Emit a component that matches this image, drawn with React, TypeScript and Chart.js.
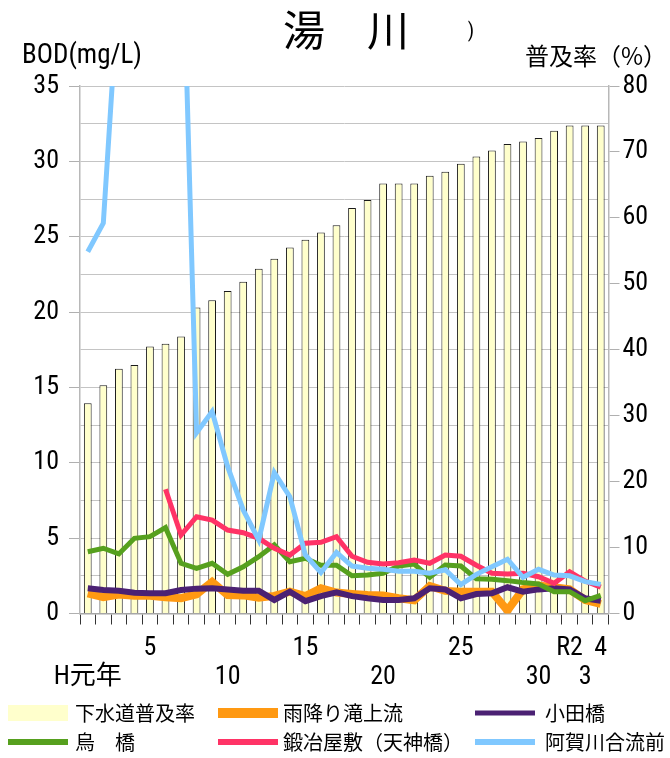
import { useEffect, useRef } from 'react';
import { Chart, registerables } from 'chart.js';

Chart.register(...registerables);

const FONT = "'Roboto Condensed', 'Noto Sans CJK JP', sans-serif";
const CJK = "'Noto Sans CJK JP', sans-serif";

const categories = [
  'H1', 'H2', 'H3', 'H4', 'H5', 'H6', 'H7', 'H8', 'H9', 'H10',
  'H11', 'H12', 'H13', 'H14', 'H15', 'H16', 'H17', 'H18', 'H19', 'H20',
  'H21', 'H22', 'H23', 'H24', 'H25', 'H26', 'H27', 'H28', 'H29', 'H30',
  'R1', 'R2', 'R3', 'R4',
];

const xRow1 = [
  '', '', '', '', '5', '', '', '', '', '',
  '', '', '', '', '15', '', '', '', '', '',
  '', '', '', '', '25', '', '', '', '', '',
  '', 'R2', '', '4',
];
const xRow2 = [
  'H元年', '', '', '', '', '', '', '', '', '10',
  '', '', '', '', '', '', '', '', '', '20',
  '', '', '', '', '', '', '', '', '', '30',
  '', '', '3', '',
];

const fukyuritsu = [
  31.9, 34.6, 37.1, 37.7, 40.5, 40.9, 42.0, 46.4, 47.5, 48.9,
  50.3, 52.3, 53.8, 55.5, 56.7, 57.8, 58.9, 61.5, 62.7, 65.2,
  65.2, 65.2, 66.4, 67.0, 68.2, 69.3, 70.2, 71.2, 71.6, 72.1,
  73.2, 74.0, 74.0, 74.0,
];
const amefuritaki = [
  1.34, 1.08, 1.26, 1.17, 1.17, 1.08, 1.02, 1.28, 2.1, 1.22,
  1.2, 1.05, 1.17, 1.45, 1.16, 1.67, 1.39, 1.3, 1.23, 1.2,
  1.01, 0.88, 1.82, 1.5, 1.45, 1.45, 1.45, 0.2, 1.6, 1.85,
  1.74, 1.6, 0.9, 0.63,
];
const odabashi = [
  1.67, 1.56, 1.51, 1.38, 1.34, 1.34, 1.56, 1.65, 1.67, 1.6,
  1.51, 1.51, 0.9, 1.45, 0.82, 1.15, 1.4, 1.15, 1.01, 0.9,
  0.9, 1.01, 1.67, 1.6, 1.01, 1.29, 1.34, 1.74, 1.45, 1.6,
  1.67, 1.6, 1.01, 0.85,
];
const karasubashi = [
  4.1, 4.33, 3.95, 4.99, 5.1, 5.7, 3.33, 3.0, 3.33, 2.6,
  3.1, 3.77, 4.55, 3.44, 3.66, 3.2, 3.2, 2.5, 2.55, 2.67,
  3.15, 3.28, 2.4, 3.22, 3.15, 2.3, 2.27, 2.18, 2.05, 1.96,
  1.45, 1.45, 0.85, 1.2,
];
const kajiyashiki = [
  null, null, null, null, null, 8.24, 5.2, 6.42, 6.2, 5.54,
  5.36, 4.99, 4.33, 3.88, 4.66, 4.72, 5.1, 3.8, 3.4, 3.28,
  3.37, 3.55, 3.33, 3.88, 3.8, 3.2, 2.67, 2.62, 2.67, 2.44,
  2.0, 2.77, 2.15, 1.75,
];
const agagawa = [
  24.0, 25.9, 42, 50, 55, 52, 49, 12.0, 13.4, 9.74,
  6.87, 4.88, 9.35, 7.75, 3.88, 2.71, 4.05, 3.15, 3.0, 2.93,
  2.8, 2.8, 2.67, 2.9, 1.92, 2.6, 3.1, 3.6, 2.4, 2.93,
  2.55, 2.5, 2.11, 1.93,
];

const legendItems = [
  { label: '下水道普及率', color: '#FFFFCC', h: 16 },
  { label: '雨降り滝上流', color: '#FF9912', h: 10 },
  { label: '小田橋', color: '#4B2173', h: 5 },
  { label: '烏　橋', color: '#56A01E', h: 6 },
  { label: '鍛冶屋敷（天神橋）', color: '#FF3366', h: 6 },
  { label: '阿賀川合流前', color: '#80C8FF', h: 6 },
];

const overlay = {
  id: 'overlay',
  afterDraw(chart: any) {
    const ctx = chart.ctx;
    ctx.save();
    ctx.fillStyle = '#000';
    ctx.textBaseline = 'middle';
    // title
    ctx.font = `42px ${CJK}`;
    ctx.textAlign = 'center';
    ctx.fillText('湯　川', 346, 30);
    ctx.font = `20px ${FONT}`;
    ctx.fillText(')', 471, 32);
    // axis titles
    ctx.font = `27px ${FONT}`;
    ctx.textAlign = 'left';
    ctx.fillText('BOD(mg/L)', 22, 56);
    ctx.font = `24px ${CJK}`;
    ctx.textAlign = 'right';
    ctx.fillText('普及率（%）', 667, 56);
    // legend
    const colX = [8, 218, 475];
    const textX = [75, 283, 545];
    const rowY = [713, 742];
    ctx.font = `20px ${CJK}`;
    ctx.textAlign = 'left';
    legendItems.forEach((it, i) => {
      const c = i % 3;
      const r = Math.floor(i / 3);
      ctx.fillStyle = it.color;
      ctx.fillRect(colX[c], rowY[r] - it.h / 2, 60, it.h);
      ctx.fillStyle = '#000';
      ctx.fillText(it.label, textX[c], rowY[r]);
    });
    ctx.restore();
  },
};

export default function App() {
  const ref = useRef<HTMLCanvasElement | null>(null);
  useEffect(() => {
    if (!ref.current) return;
    const line = (label: string, data: any[], color: string, width: number, order: number) => ({
      type: 'line' as const,
      label,
      data,
      borderColor: color,
      backgroundColor: color,
      borderWidth: width,
      pointRadius: 0,
      tension: 0,
      yAxisID: 'y',
      order,
      clip: 0,
      spanGaps: false,
    });
    const chart = new Chart(ref.current, {
      type: 'bar',
      data: {
        labels: categories,
        datasets: [
          {
            type: 'bar',
            label: '下水道普及率',
            data: fukyuritsu,
            backgroundColor: '#FFFFCC',
            borderColor: '#1a1a1a',
            borderWidth: 1,
            barPercentage: 0.5,
            categoryPercentage: 1,
            yAxisID: 'y1',
            order: 10,
          } as any,
          line('雨降り滝上流', amefuritaki, '#FF9912', 8, 6),
          line('小田橋', odabashi, '#4B2173', 6, 5),
          line('烏　橋', karasubashi, '#56A01E', 5, 4),
          line('鍛冶屋敷（天神橋）', kajiyashiki, '#FF3366', 5, 3),
          line('阿賀川合流前', agagawa, '#80C8FF', 5, 2),
        ],
      },
      options: {
        animation: false,
        responsive: false,
        devicePixelRatio: 1,
        layout: { padding: { top: 86, left: 0, right: 0, bottom: 0 } },
        plugins: { legend: { display: false }, tooltip: { enabled: false }, title: { display: false } },
        scales: {
          x: {
            offset: true,
            grid: { drawOnChartArea: false, offset: true, tickLength: 11, color: '#333', lineWidth: 1 },
            border: { color: '#A6A6A6', width: 1.5 },
            ticks: {
              autoSkip: false,
              maxRotation: 0,
              minRotation: 0,
              padding: 10,
              color: '#000',
              font: { family: FONT, size: 26, lineHeight: 1.1 },
              callback: (_v: any, i: number) => [xRow1[i], xRow2[i]],
            },
            afterFit: (s: any) => { s.height = 144.5; },
          },
          y: {
            position: 'left',
            min: 0,
            max: 35,
            grid: {
              color: '#C4C4C4',
              lineWidth: 1,
              tickLength: 11,
              tickColor: (c: any) => (c.tick && c.tick.value % 5 === 0 ? '#B0B0B0' : 'rgba(0,0,0,0)'),
            },
            border: { color: '#B8B8B8', width: 1.5 },
            ticks: {
              stepSize: 2.5,
              autoSkip: false,
              padding: 10,
              color: '#000',
              font: { family: FONT, size: 26 },
              callback: (v: any) => (Number(v) % 5 === 0 ? String(v) : ''),
            },
            afterFit: (s: any) => { s.width = 80; },
          },
          y1: {
            position: 'right',
            min: 0,
            max: 80,
            grid: { drawOnChartArea: false, tickLength: 11, color: '#B0B0B0' },
            border: { color: '#B8B8B8', width: 1.5 },
            ticks: {
              stepSize: 10,
              padding: 3,
              color: '#000',
              font: { family: FONT, size: 26 },
            },
            afterFit: (s: any) => { s.width = 61.5; },
          },
        },
      },
      plugins: [overlay],
    });
    return () => chart.destroy();
  }, []);
  return (
    <div style={{ position: 'fixed', left: 0, top: 0, width: 670, height: 758, background: '#fff' }}>
      <canvas ref={ref} width={670} height={758} style={{ display: 'block', width: 670, height: 758 }} />
    </div>
  );
}
